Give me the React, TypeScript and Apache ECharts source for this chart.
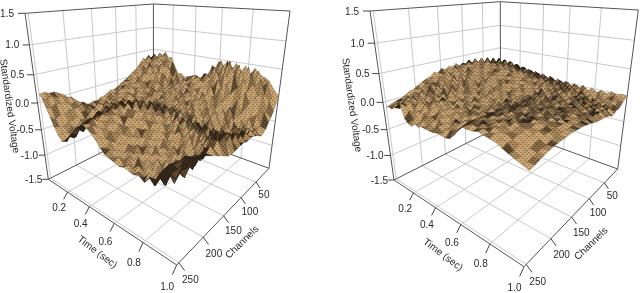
import React, { useEffect, useRef } from "react";
import * as echarts from "echarts";

const timeTicks = [0.2, 0.4, 0.6, 0.8, 1.0];
const channelTicks = [50, 100, 150, 200, 250];
const voltageTicks = [-1.5, -1.0, -0.5, 0.0, 0.5, 1.0, 1.5];
const CH_MAX = 254;

// Surface heights (hundredths of standardized voltage). Rows: time 0..1; columns: channels 0..250.
const leftHeights = [
[24,31,36,30,34,26,18,12,9,3,-2,-6,-9,-14,-17,-16,-20,-24,-25,-30,-28,-31,-29,-26,-24,-14,-9,2,7,12,12,16,15],
[30,37,32,41,33,28,17,15,6,4,-5,-3,-12,-10,-19,-22,-18,-26,-31,-27,-34,-28,-31,-22,-19,-12,-3,-1,4,3,8,5,8],
[36,33,44,35,40,25,24,13,10,-2,2,-9,-7,-15,-14,-24,-23,-31,-26,-34,-29,-35,-27,-27,-16,-20,-10,-13,-6,-7,-3,-8,-6],
[39,45,34,43,30,31,16,20,3,6,-8,-3,-16,-10,-22,-17,-28,-25,-35,-27,-33,-25,-31,-22,-26,-14,-18,-20,-18,-24,-22,-28,-20],
[47,38,42,30,38,20,26,8,14,-3,-1,-14,-7,-20,-15,-27,-21,-32,-24,-35,-22,-31,-20,-29,-16,-25,-26,-32,-36,-33,-42,-38,-36],
[36,44,29,37,21,28,9,12,-6,-2,-16,-10,-19,-21,-17,-29,-24,-33,-21,-30,-23,-28,-17,-27,-22,-31,-38,-34,-49,-41,-50,-48,-48],
[38,26,36,20,30,8,16,-6,2,-15,-9,-22,-13,-25,-20,-31,-25,-29,-23,-26,-18,-27,-20,-29,-27,-37,-33,-52,-42,-58,-50,-60,-56],
[20,30,12,24,0,12,-10,-3,-20,-11,-25,-18,-28,-22,-33,-25,-31,-20,-26,-17,-25,-15,-26,-18,-30,-26,-39,-34,-49,-42,-54,-48,-52],
[4,12,-1,14,-8,6,-15,-6,-20,-14,-27,-18,-30,-24,-31,-22,-28,-18,-24,-13,-22,-12,-24,-12,-22,-17,-28,-24,-36,-32,-44,-40,-46],
[6,-5,8,-9,2,-14,-5,-16,-8,-20,-12,-22,-14,-24,-16,-22,-14,-20,-12,-19,-9,-17,-7,-15,-9,-18,-14,-24,-22,-30,-29,-36,-35],
[-3,3,-9,1,-13,-4,-16,-8,-20,-11,-22,-15,-24,-16,-25,-17,-23,-14,-20,-10,-17,-5,-14,-4,-13,-7,-15,-12,-18,-17,-23,-24,-28],
[2,-7,1,-12,-5,-18,-9,-21,-12,-24,-16,-26,-18,-26,-18,-25,-15,-22,-10,-18,-4,-12,0,-11,-2,-10,-6,-13,-10,-16,-14,-18,-18],
[-2,5,-4,3,-13,-7,-19,-10,-23,-14,-26,-18,-28,-18,-26,-16,-24,-11,-20,-5,-15,1,-9,2,-7,-1,-8,-5,-10,-8,-13,-10,-14],
[1,9,2,-6,-2,-15,-10,-22,-14,-26,-17,-28,-20,-29,-19,-26,-13,-22,-8,-17,1,-12,4,-6,5,-3,3,-8,-2,-11,-4,-10,-7],
[3,11,5,2,-10,-8,-20,-13,-25,-15,-28,-20,-30,-21,-28,-17,-24,-10,-19,-2,-13,5,-6,6,-1,2,-7,-3,-13,-8,-16,-9,-11],
[8,2,12,-3,-5,-16,-12,-24,-16,-28,-18,-30,-22,-30,-19,-26,-12,-21,-5,-15,3,-9,3,-4,0,-10,-6,-16,-11,-20,-14,-22,-16],
[11,18,8,9,-10,-6,-21,-14,-27,-17,-30,-22,-32,-23,-29,-17,-24,-9,-18,-1,-11,1,-8,-3,-14,-8,-20,-14,-26,-20,-30,-24,-24],
[24,14,22,4,-2,-17,-14,-26,-19,-31,-21,-34,-24,-32,-20,-28,-11,-22,-4,-15,-2,-14,-7,-18,-12,-24,-20,-30,-26,-36,-30,-38,-34],
[30,38,16,20,-4,-8,-25,-18,-32,-22,-35,-25,-36,-25,-31,-18,-25,-9,-20,-6,-16,-8,-20,-15,-28,-22,-34,-30,-40,-34,-44,-38,-42],
[46,28,38,12,14,-16,-10,-31,-22,-37,-26,-39,-28,-36,-22,-30,-14,-25,-9,-21,-12,-25,-19,-30,-25,-36,-32,-44,-36,-48,-38,-48,-44],
[38,50,24,34,2,8,-28,-16,-42,-28,-49,-36,-52,-36,-46,-28,-37,-16,-30,-14,-28,-18,-34,-26,-40,-34,-46,-38,-50,-40,-52,-42,-47],
[50,30,44,14,20,-14,-8,-38,-26,-48,-34,-54,-40,-52,-32,-44,-24,-34,-16,-32,-22,-37,-30,-42,-36,-48,-40,-52,-44,-54,-44,-54,-50],
[34,52,22,36,0,6,-32,-20,-48,-32,-52,-40,-56,-38,-50,-30,-42,-22,-38,-24,-38,-28,-44,-36,-50,-40,-54,-44,-58,-44,-58,-48,-48],
[48,26,44,12,16,-20,-14,-44,-30,-52,-38,-56,-42,-54,-34,-48,-28,-42,-26,-44,-30,-48,-38,-52,-44,-56,-46,-60,-48,-62,-50,-60,-50],
[32,48,20,32,-4,0,-38,-26,-52,-36,-54,-42,-58,-40,-52,-34,-48,-30,-46,-32,-50,-36,-54,-42,-58,-46,-62,-48,-64,-50,-66,-52,-52],
[46,24,40,8,10,-28,-22,-50,-36,-56,-40,-58,-44,-56,-36,-50,-32,-48,-30,-50,-34,-52,-40,-56,-46,-62,-50,-66,-52,-68,-54,-64,-50],
[30,46,16,28,-10,-8,-46,-34,-56,-40,-58,-44,-60,-42,-54,-36,-52,-32,-48,-34,-52,-38,-56,-44,-60,-50,-68,-54,-70,-54,-70,-54,-56],
[44,20,38,4,6,-34,-30,-54,-40,-58,-42,-60,-44,-56,-38,-52,-34,-50,-32,-48,-34,-52,-40,-58,-48,-66,-54,-72,-56,-70,-54,-62,-44],
[34,42,14,22,-14,-14,-50,-38,-58,-42,-58,-42,-58,-40,-54,-36,-50,-30,-46,-30,-48,-34,-52,-40,-58,-50,-66,-54,-68,-50,-62,-46,-44],
[30,14,30,0,2,-36,-34,-56,-42,-58,-40,-56,-40,-52,-36,-48,-30,-44,-24,-40,-26,-44,-32,-50,-40,-56,-46,-60,-46,-54,-40,-42,-28],
[24,22,2,6,-22,-28,-52,-42,-56,-40,-54,-38,-50,-36,-46,-30,-42,-22,-34,-18,-32,-20,-36,-26,-40,-32,-42,-34,-38,-26,-30,-20,-16],
[10,-4,-8,-26,-24,-48,-44,-54,-42,-50,-38,-46,-36,-46,-34,-42,-26,-34,-20,-28,-14,-26,-14,-24,-16,-24,-18,-24,-14,-18,-8,-10,-8],
[0,-14,-24,-34,-40,-50,-54,-56,-52,-48,-46,-43,-42,-44,-43,-41,-42,-43,-44,-45,-44,-40,-36,-32,-28,-24,-20,-16,-12,-9,-6,-4,-3],
];

const rightHeights = [
[13,19,16,24,20,28,23,32,24,30,28,36,30,35,31,38,33,36,31,35,28,31,24,22,18,14,9,7,2,-2,-4,-7,-10],
[18,14,25,19,30,24,35,26,37,31,40,33,42,35,38,32,37,29,34,25,29,20,24,14,16,9,10,3,2,-3,-3,-8,-7],
[13,24,18,30,23,36,27,38,30,42,33,44,36,41,34,39,31,36,26,32,22,27,15,20,10,16,5,9,0,3,-6,-1,-9],
[22,15,29,22,36,26,39,30,43,34,45,37,42,36,40,32,37,28,33,22,29,17,24,12,19,7,14,2,8,-2,3,-8,-4],
[9,24,17,32,25,37,29,40,32,43,35,42,34,40,33,37,27,33,21,29,17,26,11,22,6,19,3,14,-1,9,-5,4,2],
[19,11,28,20,34,27,38,31,39,35,41,33,38,30,36,27,33,22,30,17,28,12,24,9,21,5,16,1,12,-3,6,0,9],
[7,22,15,30,22,36,28,37,31,38,33,37,30,35,26,33,23,31,17,28,13,26,10,23,7,20,4,12,-2,4,-9,-6,-16],
[16,10,24,19,32,25,35,29,37,31,36,29,34,25,32,22,29,18,28,13,25,10,22,8,20,6,15,-2,6,-8,-6,-18,-22],
[6,18,12,27,21,31,27,34,29,35,29,33,26,31,22,30,19,27,15,26,12,23,9,21,7,14,9,12,4,5,-8,-10,-24],
[14,6,22,14,28,22,31,26,32,28,32,26,30,22,29,19,27,15,25,11,23,9,21,6,18,8,12,6,8,-4,-6,-20,-18],
[4,15,9,24,17,27,23,30,25,30,25,29,22,27,18,26,15,24,11,22,9,20,8,17,6,13,7,11,2,3,-10,-12,-20],
[12,3,18,11,25,19,27,23,28,24,27,22,26,18,25,14,23,11,21,8,19,7,15,4,12,5,10,4,7,-6,-6,-20,-17],
[2,13,7,20,14,24,19,26,21,26,21,25,18,23,14,22,11,20,8,18,6,15,5,13,4,11,4,9,0,2,-10,-13,-18],
[10,1,15,9,21,16,24,18,24,19,23,17,21,14,20,10,18,7,16,5,14,4,12,3,10,2,9,2,6,-6,-6,-19,-18],
[-1,11,4,17,11,21,15,22,17,21,16,20,13,18,10,17,6,15,5,13,4,11,3,10,1,9,2,8,-1,1,-12,-12,-18],
[8,-2,12,6,17,12,19,14,20,14,18,12,17,9,15,6,13,4,12,3,10,2,9,1,8,-1,8,0,5,-7,-6,-18,-16],
[-2,9,1,14,8,17,11,18,12,18,11,16,9,14,6,13,3,11,2,10,1,8,0,7,0,7,1,7,-1,0,-9,-10,-17],
[6,-3,10,3,13,8,16,9,17,10,15,7,13,5,12,2,10,1,8,0,7,0,6,0,7,0,7,1,5,-3,0,-10,-18],
[-3,7,-1,11,4,13,7,14,8,13,7,12,5,11,3,9,1,8,1,7,0,6,0,6,1,6,2,6,1,2,0,-6,-16],
[4,-4,8,0,10,4,12,6,12,5,11,4,10,3,9,2,8,1,7,1,6,2,5,3,4,2,3,2,3,2,1,-2,-8],
[-4,6,-3,8,2,10,3,11,5,11,4,11,4,10,3,10,3,9,3,9,4,8,5,8,6,7,7,7,8,8,8,5,2],
[3,-5,5,-3,7,0,9,3,10,3,11,4,11,4,11,4,11,5,11,5,11,6,12,7,12,8,13,9,13,9,12,10,10],
[-5,4,-6,5,-3,7,-1,8,1,9,2,10,3,11,4,11,5,12,6,12,7,13,8,14,9,14,10,15,10,14,10,13,9],
[3,-6,3,-7,4,-3,6,-1,7,0,8,2,9,3,10,4,11,5,12,6,13,7,14,8,15,9,16,10,15,10,14,11,10],
[-6,2,-8,1,-6,3,-4,5,-2,6,-1,7,1,8,2,9,3,10,5,12,6,13,7,14,9,15,10,16,11,15,11,13,12],
[2,-7,1,-9,0,-7,2,-4,4,-2,5,-1,6,1,7,2,8,4,10,5,12,7,13,8,15,10,16,11,17,11,15,10,10],
[-6,0,-10,-3,-11,-2,-8,0,-5,2,-3,3,-1,5,1,6,2,8,4,10,6,12,8,13,10,15,11,16,12,15,10,12,8],
[1,-8,-3,-13,-5,-12,-3,-8,0,-5,1,-3,3,-1,4,1,5,3,7,5,9,7,11,9,13,10,14,11,13,10,11,7,6],
[-4,0,-11,-6,-14,-4,-11,-2,-8,0,-5,1,-3,3,-1,4,1,6,3,8,5,10,7,11,9,12,10,11,9,9,5,5,1],
[2,-8,-5,-15,-7,-14,-5,-10,-3,-7,-1,-5,1,-3,2,-1,4,1,5,3,7,5,8,6,9,6,8,5,6,2,3,-3,-3],
[-2,-1,-10,-9,-15,-8,-13,-6,-10,-4,-7,-2,-5,-1,-2,1,0,2,2,4,3,5,5,6,5,5,4,1,1,-4,-3,-7,-7],
[1,-6,-7,-15,-10,-16,-9,-12,-7,-9,-5,-7,-3,-5,-2,-2,0,0,1,1,2,2,2,2,1,1,0,-3,-4,-7,-8,-11,-11],
[0,-3,-6,-10,-14,-13,-17,-19,-15,-13,-12,-10,-10,-9,-8,-6,-4,-3,-1,0,0,1,1,1,0,0,-1,-2,-4,-6,-9,-12,-15],
];

// Hand-set tone variation of the mesh (a style, not data): shade steps per cell.
const mottle = [
[0,-1,0,1,0,-2,-1],
[-1,-2,0,0,1,-1,0],
[1,0,-1,-3,-1,0,1],
[0,1,0,-1,0,0,-2],
[-2,0,1,0,-1,-3,-1],
[0,-1,-2,1,0,-1,0],
[1,0,-1,0,-2,0,1],
[-1,-3,-1,1,0,1,-1],
[0,-1,0,-1,1,-2,0],
[1,0,-2,0,-1,0,-1],
[-1,0,1,-2,-3,0,0],
];

type P = [number, number];
function makeQuad(O: P, X: P, Y: P, F: P) {
  const ax = X[0] - F[0], ay = X[1] - F[1], bx = Y[0] - F[0], by = Y[1] - F[1];
  const cx = O[0] - F[0], cy = O[1] - F[1];
  const det = ax * by - bx * ay;
  const w1 = (cx * by - bx * cy) / det;
  const w2 = (ax * cy - cx * ay) / det;
  return (u: number, v: number): P => {
    const d = 1 + u * (w1 - 1) + v * (w2 - 1);
    return [
      (O[0] + u * (w1 * X[0] - O[0]) + v * (w2 * Y[0] - O[0])) / d,
      (O[1] + u * (w1 * X[1] - O[1]) + v * (w2 * Y[1] - O[1])) / d,
    ];
  };
}

const ZW = 0.85;
function makeProjector(pn: any) {
  const floor = makeQuad(pn.backFloor, pn.rightFloor, pn.leftFloor, pn.frontFloor);
  const ceil = makeQuad(pn.backTop, pn.rightTop, pn.leftTop, pn.frontTop);
  return (t: number, c: number, z: number): P => {
    const a = floor(t, c / CH_MAX);
    const b = ceil(t, c / CH_MAX);
    const s = (z + 1.5) / 3;
    const q = (s * ZW) / (1 + s * (ZW - 1));
    return [a[0] + (b[0] - a[0]) * q, a[1] + (b[1] - a[1]) * q];
  };
}

const panels = [
  {
    heights: leftHeights,
    backFloor: [153.5, 126] as P, rightFloor: [269, 168.3] as P, leftFloor: [48.3, 179.3] as P, frontFloor: [176.7, 265] as P,
    backTop: [153.4, 4] as P, rightTop: [290, 11] as P, leftTop: [25, 13.3] as P, frontTop: [184, 37] as P,
    timeTitle: [97.7, 251.7] as P, channelTitle: [241.7, 241.7] as P, voltTitle: [10, 106] as P,
  },
  {
    heights: rightHeights,
    backFloor: [500.5, 126] as P, rightFloor: [617.7, 169] as P, leftFloor: [394, 180] as P, frontFloor: [524, 266.7] as P,
    backTop: [500.3, 1.7] as P, rightTop: [638.3, 10] as P, leftTop: [370, 11] as P, frontTop: [531, 37] as P,
    timeTitle: [443.3, 254.3] as P, channelTitle: [590.7, 243.3] as P, voltTitle: [352.3, 105] as P,
  },
];

const GRID_COLOR = "#c9c9c9";
const BOX_COLOR = "#555555";
const TEXT_COLOR = "#2a2a2a";
const FONT = "Liberation Sans";
const shades: [string, string][] = [
  ["#33261a", "#281e14"],
  ["#5f4a2e", "#463521"],
  ["#8a6c46", "#6a5134"],
  ["#ab8959", "#846742"],
  ["#cba572", "#a07f55"],
];

function makePattern(a: string, b: string) {
  const cv = document.createElement("canvas");
  cv.width = 4;
  cv.height = 4;
  const g = cv.getContext("2d")!;
  g.fillStyle = a;
  g.fillRect(0, 0, 4, 4);
  g.fillStyle = b;
  g.fillRect(0, 0, 2, 1);
  g.fillRect(2, 2, 2, 1);
  return { image: cv, repeat: "repeat" };
}

function area(p: P[]) {
  let s = 0;
  for (let i = 0; i < p.length; i++) {
    const a = p[i], b = p[(i + 1) % p.length];
    s += a[0] * b[1] - b[0] * a[1];
  }
  return s / 2;
}

function buildSeries() {
  const patterns = shades.map(([a, b]) => makePattern(a, b));
  const series: any[] = [];
  panels.forEach((pn) => {
    const proj = makeProjector(pn);
    const segs: { a: P; b: P; stroke: string; w: number }[] = [];
    const seg3 = (p: number[], q: number[], stroke: string, w = 1) =>
      segs.push({ a: proj(p[0], p[1], p[2]), b: proj(q[0], q[1], q[2]), stroke, w });

    timeTicks.filter((t) => t < 1).forEach((t) => {
      seg3([t, 0, -1.5], [t, CH_MAX, -1.5], GRID_COLOR);
      seg3([t, 0, -1.5], [t, 0, 1.5], GRID_COLOR);
    });
    channelTicks.forEach((c) => {
      seg3([0, c, -1.5], [1, c, -1.5], GRID_COLOR);
      seg3([0, c, -1.5], [0, c, 1.5], GRID_COLOR);
    });
    voltageTicks.filter((z) => Math.abs(z) < 1.5).forEach((z) => {
      seg3([0, 0, z], [0, CH_MAX, z], GRID_COLOR);
      seg3([0, 0, z], [1, 0, z], GRID_COLOR);
    });
    seg3([0, 0, -1.5], [0, 0, 1.5], BOX_COLOR);
    seg3([0, 0, -1.5], [1, 0, -1.5], BOX_COLOR);
    seg3([0, 0, -1.5], [0, CH_MAX, -1.5], BOX_COLOR);
    seg3([0, 0, 1.5], [1, 0, 1.5], BOX_COLOR);
    seg3([0, 0, 1.5], [0, CH_MAX, 1.5], BOX_COLOR);
    seg3([1, 0, -1.5], [1, 0, 1.5], BOX_COLOR);
    seg3([0, CH_MAX, -1.5], [0, CH_MAX, 1.5], BOX_COLOR);
    seg3([1, 0, -1.5], [1, CH_MAX, -1.5], BOX_COLOR);
    seg3([0, CH_MAX, -1.5], [1, CH_MAX, -1.5], BOX_COLOR);

    const labels: { text: string; x: number; y: number; align: string; rot: number; size: number }[] = [];
    timeTicks.forEach((t) => {
      const p = proj(t, CH_MAX, -1.5);
      const dx = -8 - 1.5 * t, dy = 14 + 7 * t;
      segs.push({ a: p, b: [p[0] + dx * 0.46, p[1] + dy * 0.46], stroke: "#444", w: 1 });
      labels.push({ text: t.toFixed(1), x: p[0] + dx, y: p[1] + dy, align: "center", rot: 0, size: 10 });
    });
    channelTicks.forEach((c) => {
      const p = proj(1, c, -1.5);
      const dx = 7 + 0.018 * c, dy = 12 + 0.02 * c;
      segs.push({ a: p, b: [p[0] + dx * 0.5, p[1] + dy * 0.46], stroke: "#444", w: 1 });
      labels.push({ text: String(c), x: p[0] + dx, y: p[1] + dy, align: "center", rot: 0, size: 10 });
    });
    voltageTicks.forEach((z) => {
      const p = proj(0, CH_MAX, z);
      const len = 6 + (z + 1.5) / 3;
      segs.push({ a: p, b: [p[0] - len, p[1]], stroke: "#444", w: 1 });
      labels.push({ text: z.toFixed(1), x: p[0] - (8.5 + z * 1.67), y: p[1], align: "right", rot: 0, size: 10 });
    });
    labels.push({ text: "Time (sec)", x: pn.timeTitle[0], y: pn.timeTitle[1], align: "center", rot: -0.65, size: 10 });
    labels.push({ text: "Channels", x: pn.channelTitle[0], y: pn.channelTitle[1], align: "center", rot: 0.77, size: 10 });
    labels.push({ text: "Standardized Voltage", x: pn.voltTitle[0], y: pn.voltTitle[1], align: "center", rot: -1.43, size: 10 });

    series.push({
      type: "custom",
      coordinateSystem: "cartesian2d",
      silent: true,
      clip: false,
      z: 1,
      data: segs.map((_, i) => [i, 0]),
      renderItem: (params: any, api: any) => {
        const s = segs[params.dataIndex];
        const a = api.coord(s.a), b = api.coord(s.b);
        return {
          type: "line",
          shape: { x1: a[0], y1: a[1], x2: b[0], y2: b[1] },
          style: { stroke: s.stroke, lineWidth: s.w, fill: "none" },
        };
      },
    });

    const rows = pn.heights;
    const nT = rows.length - 1;
    const nC = rows[0].length - 1;
    const cells: number[][] = [];
    for (let i = 0; i < nT; i++) for (let j = 0; j < nC; j++) cells.push([i, j]);
    series.push({
      type: "custom",
      coordinateSystem: "cartesian2d",
      silent: true,
      clip: false,
      z: 2,
      data: cells,
      renderItem: (params: any, api: any) => {
        const [i, j] = cells[params.dataIndex];
        const idx: [number, number][] = [[i, j], [i + 1, j], [i + 1, j + 1], [i, j + 1]];
        const scr = idx.map(([a, b]) => proj(a / nT, (b / nC) * 250, rows[a][b] / 100));
        const flat = idx.map(([a, b]) => proj(a / nT, (b / nC) * 250, -0.2));
        const r = area(scr) / area(flat);
        const base = r < 0.2 ? 0 : r < 0.6 ? 1 : r < 0.9 ? 2 : r < 1.15 ? 3 : 4;
        const lvl = Math.max(0, Math.min(4, base + mottle[(i + (j >> 2)) % 11][j % 7]));
        return {
          type: "polygon",
          shape: { points: scr.map((p) => api.coord(p)) },
          style: { fill: patterns[lvl], stroke: shades[Math.max(lvl - 2, 0)][1], lineWidth: 0.3 },
        };
      },
    });

    series.push({
      type: "custom",
      coordinateSystem: "cartesian2d",
      silent: true,
      clip: false,
      z: 3,
      data: labels.map((_, i) => [i, 0]),
      renderItem: (params: any, api: any) => {
        const l = labels[params.dataIndex];
        const p = api.coord([l.x, l.y]);
        return {
          type: "text",
          x: p[0],
          y: p[1],
          rotation: l.rot,
          style: {
            text: l.text,
            x: 0,
            y: 0,
            textAlign: l.align,
            textVerticalAlign: "middle",
            fontSize: l.size,
            fontFamily: FONT,
            fill: TEXT_COLOR,
          },
        };
      },
    });
  });
  return series;
}

export default function App() {
  const ref = useRef<HTMLDivElement>(null);
  useEffect(() => {
    const chart = echarts.init(ref.current!, undefined, { renderer: "svg" });
    chart.setOption({
      animation: false,
      backgroundColor: "#ffffff",
      grid: { left: 0, right: 0, top: 0, bottom: 0 },
      xAxis: { type: "value", min: 0, max: 640, show: false },
      yAxis: { type: "value", min: 0, max: 293, inverse: true, show: false },
      series: buildSeries(),
    });
    return () => chart.dispose();
  }, []);
  return <div ref={ref} style={{ position: "fixed", left: 0, top: 0, width: 640, height: 293, filter: "blur(0.35px)" }} />;
}
